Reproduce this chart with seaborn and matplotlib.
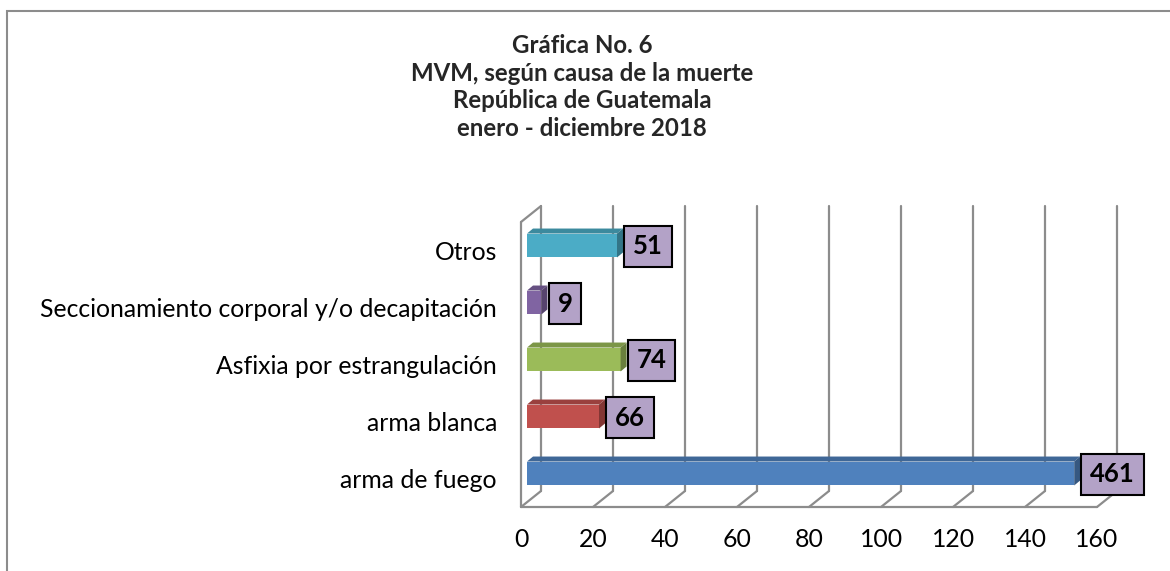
import matplotlib
matplotlib.use("Agg")
import matplotlib.pyplot as plt
from matplotlib.colors import to_rgb
from matplotlib.patches import Polygon, Rectangle
import seaborn as sns

# --- data ---
causes = ["Otros", "Seccionamiento corporal y/o decapitación",
          "Asfixia por estrangulación", "arma blanca", "arma de fuego"]
counts = [51, 9, 74, 66, 461]            # numbers printed in the label boxes
bar_lengths = [25, 4, 26, 20, 152]       # bar length as drawn on the 0-160 axis
bar_colors = ["#4BACC6", "#8064A2", "#9BBB59", "#C0504D", "#4F81BD"]
x_ticks = [0, 20, 40, 60, 80, 100, 120, 140, 160]
title_lines = ["Gráfica No. 6", "MVM, según causa de la muerte",
               "República de Guatemala", "enero - diciembre 2018"]

W, H = 1170, 571
GRID = "#8c8c8c"
FS = 17.8

sns.set_theme(style="white")
plt.rcParams["font.family"] = ["Lato", "DejaVu Sans"]

fig = plt.figure(figsize=(W / 100, H / 100), dpi=100)
fig.patches.append(Rectangle((7 / W, -0.05), 1.2, (H - 11) / H + 0.05,
                             transform=fig.transFigure, fill=False,
                             ec=GRID, lw=1.5))

# front plane of the fake 3d box
ax = fig.add_axes([521 / W, (H - 507) / H, 576 / W, 285 / H])
sns.barplot(x=bar_lengths, y=causes, hue=causes, palette=bar_colors,
            orient="h", width=0.42, saturation=1, legend=False, ax=ax, zorder=3)
ax.set_xlim(0, 160)
ax.set_ylim(4.5, -0.5)

FX = 576 / 160   # px per x unit
FY = 285 / 5     # px per category


def sh(x, y, px, py):
    # move a data point by a pixel offset (py > 0 means up)
    return x + px / FX, y - py / FY


# back wall gridlines + floor diagonals
DX, DY = 20, 16
for t in x_ticks:
    bx0, by0 = sh(t, 4.5, DX, DY)
    bx1, by1 = sh(t, -0.5, DX, DY)
    ax.plot([bx0, bx1], [by0, by1], color=GRID, lw=1.6, clip_on=False, zorder=1)
    ax.plot([t, bx0], [4.5, by0], color=GRID, lw=1.6, clip_on=False, zorder=1)
ax.plot([0, 160], [4.5, 4.5], color=GRID, lw=1.6, clip_on=False, zorder=1)
ax.plot([0, 0], [4.5, -0.5], color=GRID, lw=1.6, clip_on=False, zorder=1)
tx, ty = sh(0, -0.5, DX, DY)
ax.plot([0, tx], [-0.5, ty], color=GRID, lw=1.6, clip_on=False, zorder=1)

# bars: shift into the box, add top and side faces, label boxes
BX, BY = 6, 5     # bar front face offset
DBX, DBY = 6, 5   # bar depth
for patch in ax.patches:
    i = int(round(patch.get_y() + patch.get_height() / 2))
    patch.set_x(patch.get_x() + BX / FX)
    patch.set_y(patch.get_y() - BY / FY)
    patch.set_edgecolor("none")
    patch.set_clip_on(False)
    base = to_rgb(bar_colors[i])
    x0 = patch.get_x()
    x1 = x0 + patch.get_width()
    yt = patch.get_y()
    yb = yt + patch.get_height()
    top = [(x0, yt), (x1, yt), sh(x1, yt, DBX, DBY), sh(x0, yt, DBX, DBY)]
    side = [(x1, yt), (x1, yb), sh(x1, yb, DBX, DBY), sh(x1, yt, DBX, DBY)]
    ax.add_patch(Polygon(top, closed=True, fc=[c * 0.8 for c in base],
                         ec="none", clip_on=False, zorder=3))
    ax.add_patch(Polygon(side, closed=True, fc=[c * 0.68 for c in base],
                         ec="none", clip_on=False, zorder=3))
    ax.text(x1 + 16 / FX, (yt + yb) / 2 + 1 / FY, str(counts[i]), ha="left",
            va="center", fontsize=18.5, fontweight="bold", color="black", zorder=5,
            bbox=dict(boxstyle="square,pad=0.34", fc="#B3A2C7", ec="black", lw=1.5))

ax.set_xticks(x_ticks)
ax.set_xticklabels([str(t) for t in x_ticks])
ax.tick_params(axis="x", length=0, pad=15, labelsize=FS, colors="black")
ax.tick_params(axis="y", length=0, pad=17.3, labelsize=FS, colors="black")
ax.set_xlabel("")
ax.set_ylabel("")
for s in ax.spines.values():
    s.set_visible(False)
ax.patch.set_alpha(0)

fig.text(582 / W, 1 - 34 / H, "\n".join(title_lines), ha="center", va="top",
         fontsize=17.3, fontweight="bold", linespacing=1.24)

fig.savefig("out.png", dpi=100)
